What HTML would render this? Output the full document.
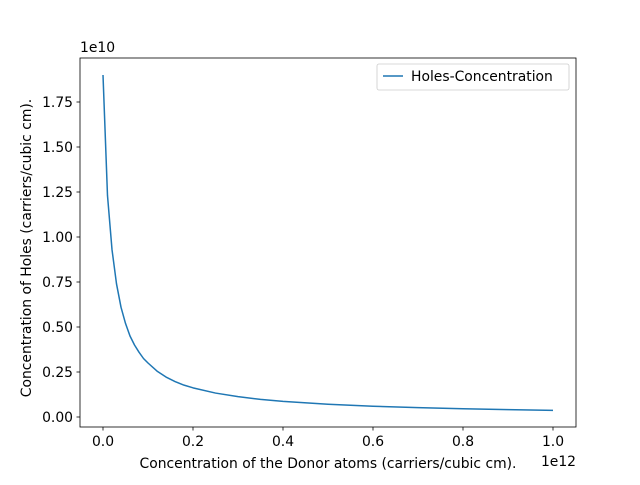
<!DOCTYPE html>
<html><head><meta charset="utf-8"><style>
body{margin:0;background:#fff;}
svg text{font-family:"DejaVu Sans","Liberation Sans",sans-serif;font-size:13.9px;fill:#000;}
</style></head><body>
<svg id="chart" width="640" height="480">
<rect width="640" height="480" fill="#fff"/>
<g id="ticks"></g>
<path id="line" fill="none" stroke="#1f77b4" stroke-width="1.5" stroke-linejoin="round"/>
<rect x="80" y="58" width="496" height="369" fill="none" stroke="#000" stroke-width="0.8"/>
<text x="80" y="52">1e10</text>
<text x="576" y="466" text-anchor="end">1e12</text>
<text x="328" y="468" text-anchor="middle">Concentration of the Donor atoms (carriers/cubic cm).</text>
<text transform="translate(31,248) rotate(-90)" text-anchor="middle">Concentration of Holes (carriers/cubic cm).</text>
<g>
<rect x="377" y="64" width="192" height="26" rx="2" fill="#fff" stroke="#ccc" stroke-width="0.8"/>
<line x1="383" y1="76" x2="403" y2="76" stroke="#1f77b4" stroke-width="1.5"/>
<text x="411" y="81">Holes-Concentration</text>
</g>
</svg>
<script>
const xVals=[0,0.01,0.02,0.03,0.04,0.05,0.06,0.07,0.08,0.09,0.1,0.12,0.14,0.16,0.18,0.2,0.25,0.3,0.35,0.4,0.5,0.6,0.7,0.8,0.9,1.0];
const yVals=[1.9,1.23,0.93,0.74,0.61,0.52,0.45,0.4,0.36,0.325,0.3,0.255,0.222,0.197,0.177,0.162,0.133,0.113,0.098,0.087,0.071,0.06,0.052,0.046,0.041,0.037];
const xTicks=[0,0.2,0.4,0.6,0.8,1.0];
const yTicks=[0,0.25,0.5,0.75,1.0,1.25,1.5,1.75];
const sx=v=>103+450*v, sy=v=>417-180*v;
const NS="http://www.w3.org/2000/svg";
const line=document.getElementById('line');
line.setAttribute('d',xVals.map((x,i)=>(i?'L':'M')+sx(x)+','+sy(yVals[i])).join(''));
const g=document.getElementById('ticks');
xTicks.forEach(t=>{
 const l=document.createElementNS(NS,'line');
 
 
 l.setAttribute('x1',sx(t));l.setAttribute('x2',sx(t));l.setAttribute('y1',427);l.setAttribute('y2',430.5);l.setAttribute('stroke','#000');l.setAttribute('stroke-width','0.8');g.appendChild(l);
 const tx=document.createElementNS(NS,'text');
 
 
 tx.setAttribute('x',sx(t));tx.setAttribute('y',446);tx.setAttribute('text-anchor','middle');tx.textContent=t.toFixed(1);g.appendChild(tx);
});
yTicks.forEach(t=>{
 const l=document.createElementNS(NS,'line');
 
 
 l.setAttribute('x1',76.5);l.setAttribute('x2',80);l.setAttribute('y1',sy(t));l.setAttribute('y2',sy(t));l.setAttribute('stroke','#000');l.setAttribute('stroke-width','0.8');g.appendChild(l);
 const tx=document.createElementNS(NS,'text');
 
 
 tx.setAttribute('x',73);tx.setAttribute('y',sy(t)+5);tx.setAttribute('text-anchor','end');tx.textContent=t.toFixed(2);g.appendChild(tx);
});
</script>
</body></html>
